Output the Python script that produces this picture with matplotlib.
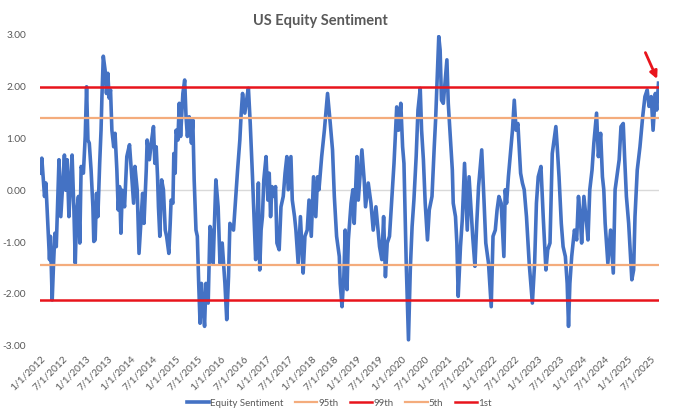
import numpy as np
import pandas as pd
import matplotlib
matplotlib.use("Agg")
import matplotlib.pyplot as plt
from matplotlib.lines import Line2D

# ---------------- data ----------------
# years elapsed since 1/1/2012
t_years = [
    0.00, 0.04, 0.10, 0.13, 0.18, 0.21, 0.23, 0.27, 0.30, 0.33, 0.36, 0.42, 0.46, 0.54, 0.57, 0.60,
    0.64, 0.67, 0.71, 0.75, 0.78, 0.81, 0.85, 0.88, 0.91, 0.96, 1.00, 1.03, 1.06, 1.09, 1.13, 1.17,
    1.19, 1.22, 1.25, 1.28, 1.32, 1.35, 1.37, 1.40, 1.44, 1.47, 1.50, 1.53, 1.56, 1.59, 1.63, 1.66,
    1.70, 1.73, 1.76, 1.79, 1.82, 1.87, 1.92, 1.98, 2.03, 2.07, 2.10, 2.15, 2.19, 2.23,
    2.27, 2.30, 2.35, 2.37, 2.42, 2.46, 2.51, 2.54, 2.57, 2.60, 2.62, 2.65, 2.69, 2.73, 2.77, 2.80,
    2.85, 2.88, 2.90, 2.94, 2.96, 2.99, 3.01, 3.05, 3.08, 3.11, 3.16, 3.20, 3.23, 3.26, 3.30, 3.35,
    3.38, 3.41, 3.45, 3.48, 3.51, 3.54, 3.57, 3.60, 3.64, 3.67, 3.72, 3.76, 3.81, 3.83, 3.89, 3.94,
    3.98, 4.03, 4.09, 4.13, 4.17, 4.20, 4.28, 4.34, 4.37, 4.42, 4.45, 4.48, 4.53, 4.59,
    4.61, 4.65, 4.70, 4.74, 4.77, 4.80, 4.83, 4.86, 4.89, 4.92, 4.95, 5.00, 5.04, 5.07, 5.10, 5.13,
    5.17, 5.21, 5.24, 5.29, 5.33, 5.38, 5.42, 5.46, 5.49, 5.55, 5.58, 5.63, 5.66, 5.71, 5.76, 5.82,
    5.86, 5.91, 5.95, 6.00, 6.05, 6.10, 6.14, 6.17, 6.23, 6.29, 6.36, 6.42, 6.47, 6.51, 6.56, 6.62,
    6.64, 6.68, 6.72, 6.75, 6.79, 6.82, 6.88, 6.92,
    6.95, 7.01, 7.04, 7.12, 7.17, 7.20, 7.26, 7.32, 7.37, 7.43, 7.51, 7.56, 7.60, 7.64, 7.68, 7.73,
    7.77, 7.83, 7.89, 7.93, 7.98, 8.02, 8.05, 8.10, 8.15, 8.19, 8.23, 8.27, 8.32, 8.36, 8.41, 8.44,
    8.48, 8.52, 8.57, 8.61, 8.67, 8.72, 8.75, 8.79, 8.82, 8.85, 8.88, 8.92, 9.00, 9.03, 9.07, 9.12,
    9.14, 9.19, 9.22, 9.25,
    9.30, 9.34, 9.39, 9.45, 9.49, 9.54, 9.57, 9.62, 9.66, 9.70, 9.77, 9.82, 9.86, 9.92, 9.98, 10.02,
    10.07, 10.11, 10.15, 10.20, 10.26, 10.29, 10.32, 10.36, 10.40, 10.45, 10.49, 10.53, 10.57, 10.63,
    10.67, 10.71, 10.76, 10.82, 10.89, 10.94, 10.98, 11.02, 11.08, 11.13, 11.19, 11.23, 11.28, 11.33,
    11.41, 11.44, 11.48,
    11.53, 11.57, 11.62, 11.66, 11.69, 11.72, 11.76, 11.82, 11.87, 11.91, 11.95, 11.98, 12.03, 12.09,
    12.12, 12.16, 12.21, 12.25, 12.31, 12.35, 12.40, 12.44, 12.47, 12.50, 12.56, 12.62, 12.68, 12.72,
    12.81, 12.85, 12.90, 12.93, 12.97, 13.02, 13.06, 13.09, 13.13, 13.16, 13.21, 13.27, 13.33, 13.38,
    13.43, 13.47, 13.52, 13.56, 13.61, 13.64, 13.68,
]
sentiment = [
    0.33, 0.62, -0.12, 0.14, -0.77, -1.34, -0.89, -2.12, -1.41, -0.83, -1.09, 0.59, -0.51, 0.68, 0.00, 0.59,
    -0.51, 0.07, 0.68, -0.38, -1.41, -0.44, -0.12, -1.02, 0.46, 0.33, 1.04, 2.00, 0.97, 0.91, 0.39, -0.32,
    -0.99, -0.96, -0.06, -0.51, 0.52, 1.16, 1.81, 2.59, 2.32, 1.87, 2.26, 1.78, 1.94, 1.16, 0.84, 1.10,
    0.39, -0.38, 0.07, -0.83, 0.00, -0.32, 0.65, 0.88, 0.26, -0.25, 0.46, 0.00, -1.22, -0.64,
    -0.06, -0.64, 0.39, 0.97, 0.59, 0.91, 1.23, 0.52, 0.84, 0.26, -0.32, -0.89, 0.20, 0.01, -0.77, -0.89,
    -1.22, -0.64, -0.19, -0.25, 0.71, 0.33, 1.16, 0.97, 1.68, 1.04, 1.87, 2.13, 1.42, 1.04, 1.42, 0.91,
    1.36, 0.20, -0.77, -0.89, -1.80, -2.57, -1.80, -2.18, -2.63, -1.80, -2.18, -0.70, -0.89, -1.41, 0.20, -0.32,
    -1.41, -1.02, -1.80, -2.50, -1.67, -0.64, -0.77, 0.01, 0.39, 0.97, 1.49, 1.87, 1.49, 1.87,
    1.97, 1.29, 0.26, -0.64, -1.34, -0.77, 0.14, -1.54, -0.77, -0.51, 0.20, 0.65, -0.19, 0.33, -0.51, 0.07,
    -0.12, 0.07, -1.02, -1.15, -0.32, -0.12, 0.33, 0.65, 0.01, 0.65, -0.19, -0.51, -0.77, -1.41, -0.51, -1.60,
    -0.89, -0.77, -0.19, -0.89, 0.26, -0.51, 0.26, 0.01, 0.65, 1.16, 1.87, 1.29, 0.78, -0.12, -0.89, -1.28,
    -1.80, -2.25, -1.67, -0.77, -1.92, -0.96, -0.25, 0.01,
    -0.64, 0.65, -0.19, 0.78, 0.20, -0.32, 0.14, -0.25, -0.77, -0.32, -1.09, -1.34, -0.51, -1.67, -1.02, -0.89,
    -0.32, 0.52, 1.61, 1.16, 1.68, 0.84, 0.52, -1.41, -2.89, -1.54, -0.70, -0.19, 0.65, 1.55, 1.97, 1.16,
    0.59, -0.25, -0.96, -0.38, -0.12, 0.84, 1.36, 2.26, 2.97, 2.71, 1.74, 1.68, 2.52, 1.68, 1.10, 0.39,
    -0.25, -0.51, -1.02, -2.05,
    -1.09, -0.57, 0.52, -0.77, 0.26, -0.44, -0.89, -1.47, -0.64, 0.07, 0.78, -0.19, -1.02, -1.41, -2.25, -0.89,
    -0.77, -0.38, -0.12, -0.25, -1.28, 0.01, -0.25, 0.26, 0.65, 1.16, 1.74, 1.16, 1.29, 0.33,
    0.14, 0.01, -0.51, -1.41, -2.18, -1.41, -0.25, 0.26, 0.46, -0.51, -1.54, -1.15, -1.02, 0.71,
    1.23, 0.84, 0.26,
    -0.64, -1.09, -1.28, -1.80, -2.63, -1.80, -1.28, -0.77, -0.96, -0.12, -0.51, -1.02, -0.12, -0.64,
    -0.96, 0.01, 0.39, 0.91, 1.49, 0.65, 1.10, 0.26, 0.01, -0.64, -1.41, -0.77, -1.60, 0.01,
    0.59, 1.23, 1.29, 0.65, -0.12, -0.64, -1.28, -1.73, -1.54, -0.51, 0.39, 0.84, 1.42, 1.81,
    1.94, 1.62, 1.81, 1.16, 1.87, 1.55, 2.07,
]
p95, p99, p5, p1 = 1.40, 2.00, -1.45, -2.13
series_names = ["Equity Sentiment", "95th", "99th", "5th", "1st"]
y_ticks = [3.0, 2.0, 1.0, 0.0, -1.0, -2.0, -3.0]
tick_start, tick_end = "2012-01-01", "2025-07-01"
title = "US Equity Sentiment"
# arrow (data units: years since 2012, value)
arrow_tail = (13.39, 2.66)
arrow_head = (13.65, 2.15)

# ---------------- drawing ----------------
plt.rcParams["font.family"] = ["Lato", "DejaVu Sans"]
plt.rcParams["axes.unicode_minus"] = False

BLUE = "#4472C4"
ORANGE = "#F4AC7C"
RED = "#E8141C"
GRAY = "#595959"

start = pd.Timestamp("2012-01-01")
def to_date(t):
    return start + pd.to_timedelta(np.asarray(t) * 365.25, unit="D")

dates = to_date(t_years)

fig = plt.figure(figsize=(6.8, 4.16), dpi=100)
ax = fig.add_axes([40 / 680, 1 - 345.5 / 416, (658.5 - 40) / 680, (345.5 - 35) / 416])

ax.axhline(0, color="#D9D9D9", lw=1.0, zorder=1)
ax.plot(dates, sentiment, color=BLUE, lw=2.6, zorder=2, solid_joinstyle="round")

x_span = [dates[0], dates[-1]]
ax.plot(x_span, [p95, p95], color=ORANGE, lw=1.6, zorder=3)
ax.plot(x_span, [p99, p99], color=RED, lw=1.8, zorder=3)
ax.plot(x_span, [p5, p5], color=ORANGE, lw=1.6, zorder=3)
ax.plot(x_span, [p1, p1], color=RED, lw=1.8, zorder=3)

ax.set_xlim(dates[0], dates[-1])
ax.set_ylim(-3, 3)
ax.set_yticks(y_ticks)
ax.set_yticklabels([f"{v:.2f}" for v in y_ticks])

ticks = pd.date_range(tick_start, tick_end, freq="6MS")
ax.set_xticks(ticks)
ax.set_xticklabels([f"{d.month}/{d.day}/{d.year}" for d in ticks],
                   rotation=45, ha="right", rotation_mode="anchor")

ax.tick_params(axis="y", length=0, pad=10, labelsize=7.3, labelcolor=GRAY)
ax.tick_params(axis="x", length=0, pad=6, labelsize=7.3, labelcolor=GRAY)
for s in ax.spines.values():
    s.set_visible(False)

ax.annotate("", xy=(to_date(arrow_head[0]), arrow_head[1]),
            xytext=(to_date(arrow_tail[0]), arrow_tail[1]),
            arrowprops=dict(arrowstyle="-|>", color=RED, lw=2.0, mutation_scale=11,
                            shrinkA=0, shrinkB=0), zorder=5)

fig.text(320 / 680, 1 - 21 / 416, title, ha="center", va="center",
         fontsize=10.5, fontweight="bold", color=GRAY)

handles = [
    Line2D([], [], color=BLUE, lw=2.6),
    Line2D([], [], color=ORANGE, lw=1.6),
    Line2D([], [], color=RED, lw=1.8),
    Line2D([], [], color=ORANGE, lw=1.6),
    Line2D([], [], color=RED, lw=1.8),
]
leg = fig.legend(handles, series_names, loc="center", bbox_to_anchor=(339 / 680, 1 - 403 / 416),
                 ncol=5, frameon=False, fontsize=7.0, handlelength=2.3, handletextpad=0.1,
                 columnspacing=1.2)
for txt in leg.get_texts():
    txt.set_color(GRAY)

fig.savefig("out.png", dpi=100)
